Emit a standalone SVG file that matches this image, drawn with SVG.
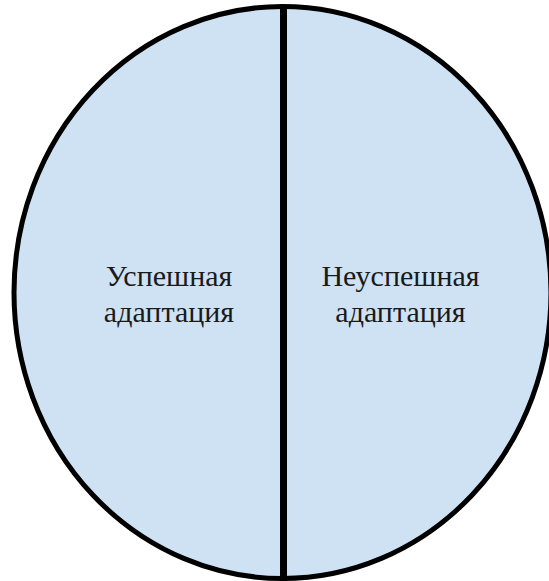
<svg xmlns="http://www.w3.org/2000/svg" width="549" height="581" viewBox="0 0 549 581">
<style>
.lbl{font-family:"Liberation Serif","Times New Roman",serif;font-size:30px;fill:#1a1a1a;text-anchor:middle}
</style>
<rect width="549" height="581" fill="#ffffff"/>
<g id="circle">
<ellipse cx="282.5" cy="292.5" rx="268.5" ry="286" fill="#cfe2f3" stroke="#000" stroke-width="5"/>
</g>
<g id="connectors">
<line x1="283.5" y1="5" x2="283.5" y2="581" stroke="#000" stroke-width="7"/>
</g>
<g id="node-left">
<text class="lbl" x="169" y="286">Успешная</text>
<text class="lbl" x="169" y="322">адаптация</text>
</g>
<g id="node-right">
<text class="lbl" x="400.5" y="286">Неуспешная</text>
<text class="lbl" x="400.5" y="322">адаптация</text>
</g>
</svg>
